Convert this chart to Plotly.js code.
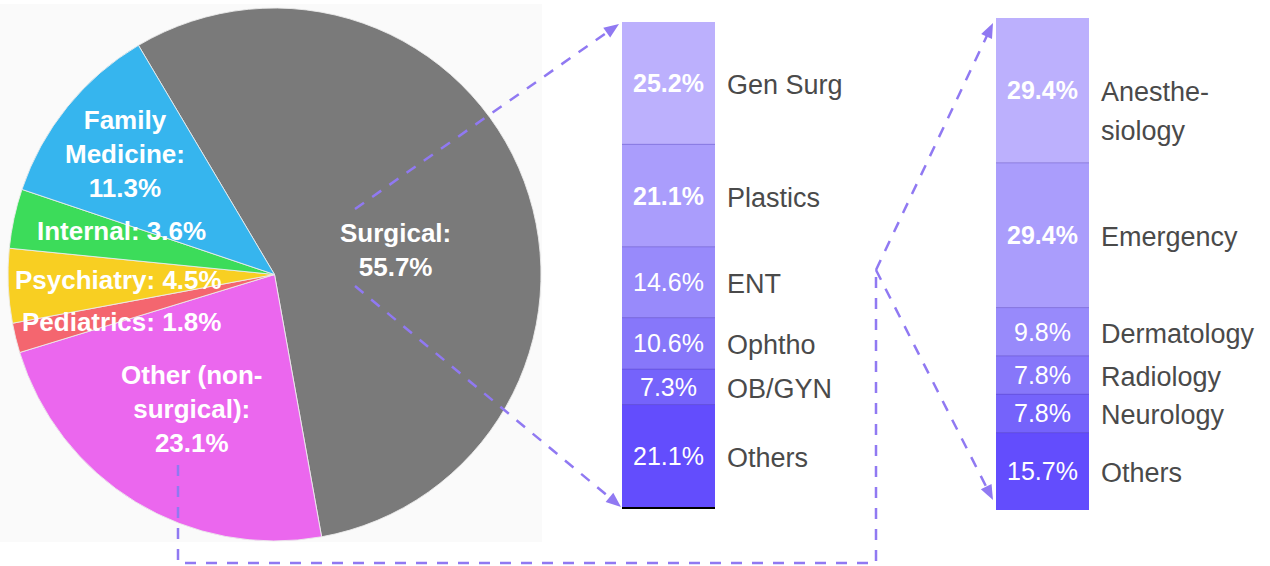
<!DOCTYPE html>
<html>
<head>
<meta charset="utf-8">
<script src="https://cdn.plot.ly/plotly-3.0.1.min.js"></script>
<style>html,body{margin:0;padding:0;background:#fff;}#chart{width:1270px;height:566px;}</style>
</head>
<body>
<div id="chart"></div>
<script>
// ---------- data ----------
var pieLabels = ['Surgical', 'Other (non-surgical)', 'Pediatrics', 'Psychiatry', 'Internal', 'Family Medicine'];
var pieValues = [55.7, 23.1, 1.8, 4.5, 3.6, 11.3];
var pieTexts = ['Surgical:<br>55.7%', 'Other (non-<br>surgical):<br>23.1%', 'Pediatrics: 1.8%', 'Psychiatry: 4.5%', 'Internal: 3.6%', 'Family<br>Medicine:<br>11.3%'];

var surgLabels = ['Gen Surg', 'Plastics', 'ENT', 'Ophtho', 'OB/GYN', 'Others'];
var surgValues = [25.2, 21.1, 14.6, 10.6, 7.3, 21.1];

var otherLabels = ['Anesthe-<br>siology', 'Emergency', 'Dermatology', 'Radiology', 'Neurology', 'Others'];
var otherValues = [29.4, 29.4, 9.8, 7.8, 7.8, 15.7];

// ---------- styling ----------
var W = 1270, H = 566;
function X(px) { return px / W; }
function Y(py) { return 1 - py / H; }
var pieColors = ['#7a7a7a', '#eb67ee', '#f4666f', '#f8cf22', '#3cdc5a', '#36b5ee'];
var barColors = ['#bcb0fd', '#aa9dfc', '#988afb', '#8777fa', '#7563fb', '#634dfd'];
var dashColor = '#9079f2';
var FONT = 'Liberation Sans, Arial, Helvetica, sans-serif';

var pieLabelPos = [[395, 250], [192, 409], [121, 322], [118, 280], [121, 231], [125, 154]];

var traces = [];
traces.push({
  type: 'pie',
  labels: pieLabels,
  values: pieValues,
  sort: false,
  direction: 'clockwise',
  rotation: -30.7,
  marker: { colors: pieColors, line: { color: 'rgba(235,235,235,0.9)', width: 1 } },
  textinfo: 'none',
  hoverinfo: 'none',
  showlegend: false,
  domain: { x: [X(8), X(541)], y: [Y(541), Y(8)] }
});

var annotations = [];
var shapes = [];

pieTexts.forEach(function (t, i) {
  annotations.push({
    xref: 'paper', yref: 'paper', x: X(pieLabelPos[i][0]), y: Y(pieLabelPos[i][1]),
    xanchor: 'center', yanchor: 'middle', showarrow: false, align: 'center',
    text: '<b>' + t + '</b>',
    font: { family: FONT, size: 26, color: '#ffffff' }
  });
});

function addBar(labels, values, xa, ya) {
  var total = values.reduce(function (a, b) { return a + b; }, 0);
  for (var i = values.length - 1; i >= 0; i--) {
    var pct = values[i].toFixed(1) + '%';
    traces.push({
      type: 'bar', x: [0], y: [values[i]], width: 1,
      xaxis: xa, yaxis: ya,
      marker: { color: barColors[i], line: { width: 0 } },
      text: [i < 2 ? '<b>' + pct + '</b>' : pct],
      textposition: 'inside', insidetextanchor: 'middle', constraintext: 'none',
      textfont: { family: FONT, size: 25, color: '#ffffff' },
      hoverinfo: 'none', showlegend: false
    });
  }
  var cum = 0;
  values.forEach(function (v, i) {
    var mid = total - cum - v / 2;
    var lines = labels[i].split('<br>');
    lines.forEach(function (ln, j) {
      annotations.push({
        xref: xa, yref: ya, x: 0.5, y: mid, xshift: 10, yshift: -2 - j * 39,
        xanchor: 'left', yanchor: 'middle', showarrow: false,
        text: ln, font: { family: FONT, size: 27, color: '#4a4a4a' }
      });
    });
    cum += v;
    if (i < values.length - 1) {
      shapes.push({
        type: 'line', xref: xa + ' domain', yref: ya, x0: 0, x1: 1, y0: total - cum, y1: total - cum,
        line: { color: 'rgba(70,50,170,0.35)', width: 1 }
      });
    }
  });
  return total;
}
var t1 = addBar(surgLabels, surgValues, 'x', 'y');
var t2 = addBar(otherLabels, otherValues, 'x2', 'y2');

// ---------- connectors ----------
shapes.unshift({
  type: 'rect', xref: 'paper', yref: 'paper', x0: X(0), x1: X(542), y0: Y(542), y1: Y(4),
  fillcolor: '#fafafa', line: { width: 0 }, layer: 'below'
});

function dashedPath(pts) {
  var d = pts.map(function (p, k) { return (k ? 'L ' : 'M ') + X(p[0]) + ',' + Y(p[1]); }).join(' ');
  shapes.push({ type: 'path', xref: 'paper', yref: 'paper', path: d,
    line: { color: dashColor, width: 2.5, dash: '11px,10px' } });
}
function arrow(from, tip) {
  var dx = tip[0] - from[0], dy = tip[1] - from[1];
  var len = Math.sqrt(dx * dx + dy * dy);
  var ux = dx / len, uy = dy / len;
  var L = 15, Wd = 12;
  var bx = tip[0] - ux * L, by = tip[1] - uy * L;
  dashedPath([from, [tip[0] - ux * 8, tip[1] - uy * 8]]);
  var nx = -uy, ny = ux;
  var p1 = [bx + nx * Wd / 2, by + ny * Wd / 2], p2 = [bx - nx * Wd / 2, by - ny * Wd / 2];
  shapes.push({ type: 'path', xref: 'paper', yref: 'paper',
    path: 'M ' + X(tip[0]) + ',' + Y(tip[1]) + ' L ' + X(p1[0]) + ',' + Y(p1[1]) + ' L ' + X(p2[0]) + ',' + Y(p2[1]) + ' Z',
    fillcolor: dashColor, line: { width: 0 } });
}
arrow([355, 209], [619, 24]);
arrow([355, 286], [621, 507]);
dashedPath([[178, 465], [178, 563], [876, 563], [876, 270]]);
arrow([876, 270], [993, 23]);
arrow([876, 270], [993, 500]);

var axisBase = { showgrid: false, zeroline: false, showticklabels: false, ticks: '', fixedrange: true };
var layout = {
  width: W, height: H,
  margin: { l: 0, r: 0, t: 0, b: 0, pad: 0 },
  paper_bgcolor: '#ffffff', plot_bgcolor: 'rgba(0,0,0,0)',
  barmode: 'stack', bargap: 0,
  showlegend: false,
  xaxis: Object.assign({}, axisBase, { domain: [X(622), X(715)], range: [-0.5, 0.5], anchor: 'y', showline: true, linecolor: '#000000', linewidth: 2 }),
  yaxis: Object.assign({}, axisBase, { domain: [Y(507), Y(22)], range: [0, t1], anchor: 'x' }),
  xaxis2: Object.assign({}, axisBase, { domain: [X(996), X(1089)], range: [-0.5, 0.5], anchor: 'y2', showline: false }),
  yaxis2: Object.assign({}, axisBase, { domain: [Y(510), Y(18)], range: [0, t2], anchor: 'x2' }),
  annotations: annotations,
  shapes: shapes,
  font: { family: FONT }
};

Plotly.newPlot('chart', traces, layout, { staticPlot: true, displayModeBar: false });
</script>
</body>
</html>
